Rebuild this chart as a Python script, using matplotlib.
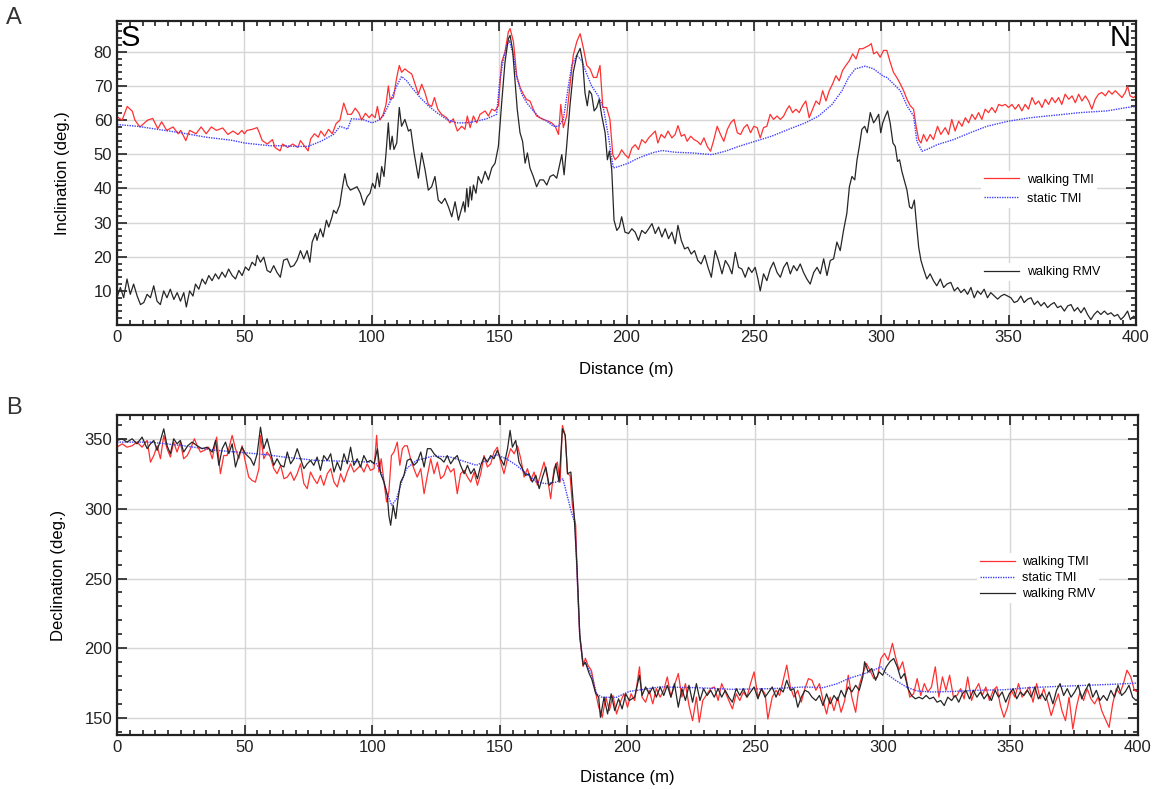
import matplotlib

matplotlib.use("Agg")
import matplotlib.pyplot as plt
import numpy as np
from matplotlib.ticker import MultipleLocator

plt.rcParams["font.family"] = ["Liberation Sans", "DejaVu Sans"]

# (distance m, inclination deg) along the S-N profile
inc_walking_tmi = [
    (0, 61), (2, 60), (4, 64), (6, 62.6), (7, 60), (9, 58), (12, 60), (14, 60.5), (16, 57.5),
    (17.5, 59.5), (19.5, 57), (22, 58), (24, 56), (25, 57), (27, 54), (28.5, 57), (31, 56),
    (33, 58), (35, 56), (37, 58), (39, 57), (41.5, 57.7), (43.5, 55.8), (45.5, 56.8),
    (47.5, 55.8), (49, 57), (50, 56), (51, 57), (53, 57.3), (55, 57.8), (56, 56), (57, 54),
    (59, 53), (61, 54.3), (62, 52), (64, 51), (65, 53), (67, 52), (69, 53), (71, 52), (72, 54),
    (74, 52), (75, 51), (76, 54.5), (77.5, 56), (79, 55), (80, 56.8), (81.5, 55.3), (83, 57.3),
    (84.5, 56), (86, 59), (87.5, 60), (89, 65), (90.5, 61.7), (92, 61.7), (93.5, 63.5), (95, 62),
    (96, 60), (97.5, 62), (99, 60.7), (100, 61.7), (101.3, 60.7), (102.2, 64), (103.2, 60),
    (104.5, 61.7), (105.6, 64.6), (106.5, 70), (107.2, 66), (108.5, 66.6), (109.8, 72.5),
    (110.8, 76), (111.7, 74), (113, 75), (114.3, 74.2), (115.7, 73.5), (117, 70.5),
    (118.3, 67.6), (119.6, 70.5), (120.9, 68), (122.2, 64.6), (123.5, 64), (124.6, 66.6),
    (125.9, 63.2), (127.4, 61.7), (129.4, 60.7), (130.7, 59.2), (132, 60.4), (133.6, 56.8),
    (135.3, 58.2), (136.6, 57.3), (137.5, 61.2), (138.6, 57.8), (139.9, 61.2), (141.2, 59.2),
    (142.5, 61.7), (144.5, 62.7), (145.8, 61.2), (147.1, 63.2), (148.4, 62.7), (149.7, 64.2),
    (151, 77), (152.3, 80), (153.6, 85.8), (154.3, 86.8), (155.6, 83), (156.9, 73),
    (158.2, 69.6), (159.5, 67.6), (160.8, 66), (162.1, 65.6), (163.4, 63.2), (164.7, 61.2),
    (166, 60.7), (167.4, 60.2), (169.3, 59.7), (170.6, 59.2), (172, 58.2), (173.3, 55.8),
    (174.2, 64.6), (175.2, 57.8), (176.5, 61.2), (177.8, 70), (179.1, 79), (180.5, 83),
    (181.8, 85.3), (183.1, 81), (184.4, 76), (185.7, 75), (187, 72.5), (188.3, 72.5),
    (189.6, 76), (190.7, 63.7), (192.2, 63.7), (193.5, 60.2), (194.6, 50), (195.5, 48.4),
    (196.8, 49.4), (198.1, 51.3), (199.4, 49.9), (200.8, 48.9), (202.1, 51.8), (203.4, 52.8),
    (204.7, 51.4), (206, 54.3), (207.4, 53.3), (208.7, 54.8), (210, 55.8), (211.3, 56.8),
    (212.3, 53.3), (213.6, 55.8), (215, 54.8), (216.3, 56.8), (217.8, 54.8), (219.1, 55.8),
    (220.2, 58.4), (221.5, 55.3), (222.8, 55.8), (223.8, 53.8), (225.2, 55.3), (226.5, 54.3),
    (227.8, 53.8), (229.1, 52.8), (230.4, 54.8), (231.7, 52.3), (233, 50.9), (234.3, 54.3),
    (235.6, 58.2), (236.9, 55.8), (238.2, 53.8), (239.6, 57.3), (240.9, 59.2), (242.2, 60.2),
    (243.5, 56.3), (244.8, 55.8), (246.1, 57.8), (247.4, 58.7), (248.7, 56.3), (250, 58.2),
    (251.3, 57.8), (252.5, 54.8), (253.8, 57.8), (255.1, 58.2), (256.4, 61.7), (257.7, 60.2),
    (259.1, 61.2), (260.4, 60.2), (261.7, 61.2), (263, 63.2), (263.9, 64.2), (265.2, 62.2),
    (266.5, 63.2), (267.8, 62.2), (269.1, 64.2), (270.4, 65.6), (271.7, 60.7), (273.1, 63.2),
    (274.4, 65.6), (275.7, 64.6), (277, 68.6), (278.3, 65.6), (279.6, 68.6), (280.9, 70.6),
    (282.2, 73), (283.5, 71.5), (284.8, 74.5), (286.1, 76), (287.5, 77.4), (288.8, 79.4),
    (290.1, 77.9), (291.4, 80.9), (292.7, 80.9), (294, 81.4), (295.3, 81.9), (296.1, 82.4),
    (297, 79.4), (298.3, 80), (299.6, 78.4), (300.9, 80.4), (302.2, 80.4), (303.5, 77),
    (304.8, 74), (306.1, 72.5), (307.5, 70.6), (308.8, 68.6), (310.1, 66.1), (311.4, 64.2),
    (312.7, 63.2), (313.7, 58.2), (314.7, 54.3), (315.6, 53.3), (316.6, 55.8), (317.9, 53.8),
    (319.2, 55.8), (320.5, 54.3), (322.1, 58.2), (323.4, 55.8), (325.1, 57.8), (326.4, 55.8),
    (327.7, 60.2), (329, 56.8), (330.4, 59.7), (331.7, 58.2), (333, 60.7), (334.3, 59.2),
    (335.6, 61.7), (336.9, 60.2), (338.2, 62.2), (339.5, 60.2), (340.8, 63.2), (342.1, 62.2),
    (343.4, 63.7), (344.8, 62.2), (346.1, 64.6), (347.4, 64.2), (348.7, 64.6), (350, 63.7),
    (351.3, 64.6), (352.6, 63.2), (353.9, 64.6), (355.2, 62.7), (356.5, 64.6), (357.8, 63.2),
    (359.2, 66.6), (360.5, 64.6), (361.8, 65.6), (363.1, 63.7), (364.4, 66.1), (365.7, 64.6),
    (367, 66.6), (368.3, 65.1), (369.6, 66.6), (370.9, 64.6), (372.2, 67.6), (373.6, 66.1),
    (374.9, 67.1), (376.2, 65.1), (377.5, 67.6), (378.8, 65.6), (380.1, 67.1), (381.4, 65.6),
    (382.7, 63.2), (384, 66.1), (385.3, 67.6), (386.6, 68.1), (388, 67.1), (389.3, 68.6),
    (390.6, 67.6), (391.9, 68.6), (393.2, 67.6), (394.5, 66.6), (395.8, 68.1), (396.7, 70),
    (397.7, 67.1), (399, 66.6), (400, 67.1),
]

inc_static_tmi = [
    (0, 58.7), (8, 58.2), (15, 57.4), (25, 56.3), (35, 55), (45, 54.1), (50, 53.3), (60, 52.5),
    (65, 52.5), (70, 52.3), (75, 52.3), (80, 53.8), (85, 55.8), (87.5, 58.2), (89, 57.8),
    (90.5, 57.3), (92, 60.4), (96.5, 60.2), (100, 59.2), (102, 59.7), (104.5, 61.2),
    (107, 65.1), (109.8, 70), (111.7, 72.8), (113.7, 71.5), (116.3, 69), (119, 66.6),
    (122.2, 64.2), (125.5, 62.2), (129.4, 60.2), (133.3, 59.2), (137.3, 59.2), (141.2, 59.7),
    (145.1, 60.4), (149, 61.7), (150.3, 72), (151.7, 77.9), (153, 81.9), (154, 83.3),
    (155.6, 79), (156.9, 72.5), (158.9, 67.6), (160.8, 65.1), (163.4, 62.7), (166, 60.7),
    (168.7, 59.7), (171.3, 58.2), (173.3, 58.2), (175.2, 60.2), (177.2, 70), (178.5, 76),
    (180.5, 79), (182.4, 77.4), (184.4, 73.5), (186.3, 70), (188.9, 67.1), (190.9, 63.7),
    (192.9, 55.3), (194.8, 46), (196.8, 46.4), (200.7, 47.4), (204.7, 48.9), (210, 50.4),
    (213.9, 51.1), (219.1, 50.6), (225.7, 50.4), (233.5, 49.9), (238.8, 50.9), (244, 52.3),
    (250.5, 53.8), (257, 55.3), (263.6, 57.3), (270.2, 59.2), (275.4, 61.2), (280.7, 64.6),
    (284.6, 68.6), (287.2, 72.5), (289.8, 75), (293.7, 75.8), (297, 75), (300.9, 72.8),
    (302.2, 72.5), (304.8, 70.6), (307.5, 68.6), (310.1, 64.2), (312.7, 61.2), (314, 53.8),
    (316, 50.9), (317.9, 51.4), (321.9, 52.8), (328.4, 54.3), (334.9, 56.3), (341.5, 58.2),
    (350, 59.7), (358.5, 60.7), (367.7, 61.4), (378.1, 62.2), (388.6, 62.7), (396.5, 63.7),
    (400, 64),
]

inc_walking_rmv = [
    (0, 8.1), (1.3, 11), (2.6, 8), (3.9, 13.5), (5.2, 9), (6.5, 12), (7.9, 8.5), (9.2, 6),
    (10.5, 6.6), (11.8, 9), (13.1, 8), (14.4, 11.5), (15.7, 7), (17, 6), (18.3, 10), (19.6, 8),
    (20.9, 10.5), (22.3, 7.5), (23.6, 9.5), (24.9, 7), (26.2, 9.5), (27.2, 5.3), (28.5, 10),
    (29.8, 8.5), (30.8, 12), (32.1, 10.5), (33.4, 13.5), (34.7, 12), (36, 14.5), (37.3, 13),
    (38.6, 15), (39.9, 13.5), (41.2, 15.5), (42.5, 14), (43.8, 16.4), (45.2, 14.5),
    (46.5, 13.5), (47.8, 16), (49.1, 14.5), (50.4, 17), (51.7, 16), (53, 18.4), (54.3, 17.4),
    (55, 20.4), (56.3, 18.4), (57.6, 19.9), (58.9, 16), (60.2, 15.4), (61.5, 17.4),
    (62.8, 15.4), (64.1, 14), (65.4, 19), (66.8, 19.4), (68.1, 17), (69.4, 17.4), (70.7, 19),
    (72, 21.8), (73.3, 19.4), (74.6, 21.8), (75.7, 18.4), (76.6, 24.3), (77.9, 26.8),
    (78.5, 24.8), (79.8, 28.2), (80.9, 25.8), (82.2, 30.7), (83.1, 28.7), (84.4, 31.7),
    (85, 33.6), (86.1, 32.7), (87.4, 35.1), (88.3, 39.5), (89.4, 44.3), (90.3, 41),
    (91.6, 39.5), (92.9, 40), (94.2, 40.5), (95.5, 38.6), (96.9, 35.1), (98.2, 37.6),
    (99.3, 38.6), (100.3, 41.5), (101.3, 40), (102.2, 44.5), (103, 40.5), (103.9, 46.4),
    (104.8, 43.5), (105.6, 50.4), (106.5, 59.2), (107.2, 51.4), (108, 55.3), (108.7, 51.4),
    (109.8, 53.3), (110.8, 63.7), (111.7, 58.2), (113, 60.2), (114.4, 56.8), (115.3, 57.3),
    (116.6, 50.4), (118.3, 43), (119.6, 50.4), (120.9, 45.5), (122.2, 39.5), (123.5, 40.5),
    (124.8, 43.5), (126.1, 36.6), (127.4, 35.6), (128.7, 37.1), (130.1, 34.6), (131.4, 31.7),
    (132.7, 36.1), (134, 30.7), (134.9, 33.1), (136, 36.1), (136.6, 33.1), (137.3, 40),
    (137.9, 34.6), (138.6, 40.5), (139.2, 36.6), (139.9, 41), (140.9, 38.6), (141.8, 43.5),
    (143.1, 41.5), (144.5, 45), (145.8, 42.5), (147.1, 46), (148.4, 47.4), (149.7, 52.3),
    (151, 65.1), (152.3, 77), (153.6, 83.8), (154.3, 84.8), (155.3, 80.4), (156.2, 72),
    (157.1, 63.2), (158.2, 56.3), (159.2, 53.8), (160.2, 47.4), (161.1, 50.4), (162.1, 46),
    (163.4, 43.5), (164.7, 40.5), (166, 42.5), (167.4, 42.5), (168.7, 41), (170, 43.5),
    (171.3, 44), (172.6, 43), (173.6, 46.4), (174.6, 49.9), (175.5, 44), (176.5, 52.3),
    (177.8, 64.2), (179.1, 74), (180.5, 79), (181.8, 81), (182.8, 77), (183.7, 68),
    (184.6, 64.2), (185.4, 68.6), (186.3, 67.6), (187.3, 62.7), (188.3, 63.7), (189.3, 66.1),
    (190.3, 61.2), (191.6, 56.3), (192.5, 48.4), (193.3, 51), (194.2, 45.5), (195.1, 30.7),
    (196.2, 27.7), (197.2, 28.7), (198.1, 31.7), (199.4, 27.2), (200.8, 26.8), (202.1, 28.2),
    (203.4, 27.2), (204.7, 24.8), (206, 27.7), (207.4, 26.8), (208.7, 28.2), (210, 29.7),
    (211.3, 26.8), (212.6, 28.7), (213.9, 25.8), (215.2, 28.2), (216.5, 25.3), (217.8, 27.2),
    (219.1, 23.8), (220.2, 29.2), (221.5, 24.8), (222.8, 22.3), (224.1, 22.8), (225.4, 20.8),
    (226.7, 21.8), (228, 18.9), (229.3, 17.9), (230.7, 20.4), (232, 16.9), (233.3, 14),
    (234.8, 21.8), (236.1, 18.9), (237.5, 15), (238.8, 18.9), (240.1, 17.4), (241.4, 15),
    (242.7, 21.3), (244, 16.9), (245.3, 16.4), (246.6, 14), (247.9, 16.9), (249.2, 15.4),
    (250.5, 16.9), (251.6, 13.5), (252.5, 10), (253.8, 15), (255.1, 13), (256.4, 16.4),
    (257.7, 18.4), (259.1, 15.4), (260.4, 14), (261.7, 16.9), (263, 18.4), (264.3, 15),
    (265.6, 17.4), (266.9, 15.9), (268.2, 17.9), (269.5, 15.4), (270.8, 13.5), (272.1, 12),
    (273.5, 15.4), (274.8, 16.9), (276.1, 15), (277.4, 19.4), (278.7, 14.5), (280, 18.9),
    (281.3, 19.4), (282.6, 24.3), (283.9, 21.8), (285.2, 27.7), (286.5, 32.7), (287.5, 40.5),
    (288.5, 43.5), (289.6, 42.5), (290.5, 48.4), (291.4, 52.3), (292.4, 57.3), (293.5, 58.2),
    (294.5, 56.3), (295.7, 62.2), (297, 59.2), (297.9, 60.2), (299, 61.7), (299.8, 56.3),
    (300.6, 59.2), (301.6, 61.2), (302.5, 62.7), (303.5, 59.2), (304.6, 53.3), (305.5, 52.3),
    (306.4, 47.9), (307.2, 48.4), (308.1, 45), (309, 42.5), (310.1, 39.5), (311.1, 34.6),
    (312, 34.1), (313, 36.6), (313.7, 30.7), (314.7, 22.8), (315.6, 18.9), (316.6, 16.4),
    (317.9, 13.5), (319.2, 15), (320.5, 13), (321.8, 11.5), (323.2, 13.5), (324.5, 11),
    (325.8, 12), (327.3, 12.5), (328.7, 10), (330, 11), (331.3, 9.5), (332.6, 10.5),
    (333.9, 9), (335.2, 11), (336.5, 8), (337.8, 10), (339.1, 9), (340.4, 10.5), (341.7, 8),
    (343, 9.5), (344.4, 8.5), (345.7, 7.6), (347, 8.5), (348.3, 9), (349.6, 8.5), (350.9, 8),
    (352.2, 6.6), (353.5, 7), (354.8, 8.5), (356.1, 6.6), (357.5, 7.6), (358.8, 8), (360.1, 6),
    (361.4, 7), (362.7, 5.6), (364, 6.6), (365.3, 5.1), (366.6, 6), (367.9, 6.6), (369.2, 5.1),
    (370.5, 5.6), (371.9, 4.1), (373.2, 5.6), (374.5, 6), (375.8, 4.1), (377.1, 5.1),
    (378.4, 3.6), (379.7, 5.1), (381, 3.1), (382.3, 1.6), (383.6, 3.1), (384.9, 4.1),
    (386.2, 3.1), (387.6, 4.1), (388.9, 3.1), (390.2, 3.6), (391.5, 2.6), (392.8, 3.1),
    (394.1, 1.6), (395.4, 2.6), (396.7, 4.1), (397.8, 1.6), (399.1, 2.6), (400, 2.1),
]

# (distance m, declination deg)
dec_walking_tmi = [
    (0, 344), (2, 346.4), (3.9, 344), (5.9, 345), (7.8, 347.6), (9.8, 344), (11.8, 348.8),
    (13.1, 333.3), (14.4, 338), (15.7, 345), (17, 335.7), (18.3, 352.4), (19.6, 342.9),
    (20.9, 336.9), (22.2, 347.6), (23.5, 340.5), (24.8, 347.6), (26.1, 335.7), (27.5, 338),
    (28.8, 342.9), (30.3, 350), (31.4, 345), (32.7, 340.5), (34.2, 341.7), (35.9, 344),
    (37.3, 335.7), (39, 351.2), (40.5, 325), (41.8, 338), (43.1, 338), (45.1, 352.4),
    (46.4, 342.9), (47.7, 335.7), (49, 345), (50.3, 333.3), (51.6, 322.6), (52.9, 320.2),
    (54.2, 319), (55.6, 328.6), (56.2, 352.4), (57.5, 335.7), (58.8, 340.5), (60.1, 336.9),
    (61.4, 328.6), (62.7, 325), (64.1, 331), (65.4, 321.4), (66.7, 322.6), (68, 326.2),
    (69.3, 320.2), (70.6, 325), (71.9, 332.1), (73.2, 317.9), (74.5, 314.3), (75.8, 326.2),
    (77.1, 321.4), (78.4, 317.9), (79.7, 323.8), (81, 316.7), (82.4, 325), (83.7, 328.6),
    (85, 319), (86.3, 315.5), (87.6, 325), (88.9, 319), (90.2, 326.2), (91.5, 332.1),
    (92.8, 326.2), (94.1, 328.6), (95.4, 331), (96.7, 326.2), (98, 332.1), (99.3, 327.4),
    (100.7, 328.6), (101.7, 352.4), (102.6, 326.2), (103.5, 335.7), (104.6, 319),
    (105.6, 304.8), (106.5, 311.9), (107.5, 338), (108.5, 340.5), (109.8, 347.6), (110.8, 331),
    (111.8, 342.9), (112.7, 345), (113.7, 345), (115, 335.7), (116.3, 328.6), (117.6, 322.6),
    (119, 328.6), (120.3, 310.7), (121.6, 323.8), (122.9, 335.7), (124.2, 325), (125.5, 333.3),
    (126.8, 321.4), (128.1, 323.8), (129.4, 331), (130.7, 326.2), (132, 328.6), (133.3, 310.7),
    (134.6, 325), (136, 327.4), (137.3, 322.6), (138.6, 319), (139.9, 326.2), (141.2, 316.7),
    (142.5, 325), (143.8, 338), (145.1, 329.8), (146.4, 332.1), (147.7, 340.5), (149, 344),
    (150.3, 333.3), (151.6, 325), (153, 335.7), (154.2, 342.9), (155.6, 339.3), (156.9, 345),
    (158.2, 335.7), (159.5, 322.6), (160.8, 328.6), (162.1, 320.2), (163.4, 326.2),
    (164.7, 316.7), (166, 325), (167.3, 333.3), (168.6, 322.6), (169.9, 307.1), (171.2, 328.6),
    (172.5, 333.3), (173.6, 319), (174.5, 359.5), (175.6, 352.4), (176.5, 325), (177.5, 323.8),
    (178.4, 302.4), (179.7, 288.1), (180.3, 251), (181.3, 208), (182.6, 187), (183.5, 193),
    (184.5, 188), (185.9, 184), (187.2, 171.2), (188.7, 158), (190.1, 150.7), (191.5, 165.1),
    (192.9, 155.5), (194.3, 166.3), (195.7, 153.1), (197.2, 161.5), (198.6, 167.5),
    (200, 157.9), (201.4, 167.5), (202.8, 162.7), (204.7, 186.8), (205.7, 165.1),
    (207.1, 161.5), (208.5, 170), (209.9, 160.3), (211.3, 171.2), (212.8, 165.1), (214.2, 170),
    (215.6, 179.6), (217, 165.1), (218.4, 173.6), (219.9, 182), (221.3, 165.1), (222.7, 174.8),
    (224.1, 159.1), (225.5, 148.3), (227, 165.1), (228.1, 147.1), (229.5, 162.7),
    (231.2, 167.5), (232.6, 171.2), (234, 172.4), (235.5, 162.7), (236.9, 174.8),
    (238.3, 168.8), (239.7, 162.7), (241.1, 156.7), (242.6, 167.5), (244, 162.7),
    (245.4, 168.8), (246.8, 165.1), (248.2, 174.8), (249.6, 183.2), (251.1, 165.1),
    (252.5, 171.2), (253.9, 167.5), (255, 149.5), (256.7, 165.1), (258.2, 170), (259.6, 166.3),
    (261, 177.2), (262.4, 188), (263.8, 172.4), (265.2, 165.1), (266.7, 170), (268.1, 161.5),
    (269.5, 171.2), (270.9, 178.4), (272.3, 177.2), (273.8, 170), (275.2, 174.8),
    (276.6, 162.7), (278, 153.1), (279.4, 165.1), (280.9, 155.5), (282.3, 165.1),
    (283.7, 154.3), (285.1, 162.7), (286.5, 180.8), (287.9, 165.1), (289.4, 154.3),
    (290.8, 173.6), (292.2, 182), (293.6, 189.2), (295, 184.4), (296.5, 178.4), (297.9, 179.6),
    (299.3, 192.8), (300.7, 196.4), (302.1, 191.6), (303.8, 203.6), (305, 194), (306.4, 184.4),
    (307.8, 190.4), (309.2, 178.4), (310.6, 165.1), (312.1, 167.5), (313.5, 178.4),
    (314.9, 166.3), (316.3, 174.8), (317.7, 168.8), (319.1, 172.4), (320.6, 186.8),
    (322, 165.1), (323.4, 179.6), (324.8, 170), (326.2, 180.8), (327.7, 165.1), (329.1, 166.3),
    (330.5, 171.2), (331.9, 163.9), (333.3, 179.6), (334.8, 162.7), (336.2, 170),
    (337.6, 174.8), (339, 166.3), (340.4, 172.4), (341.8, 162.7), (343.3, 170), (344.7, 172.6),
    (346.1, 159.1), (347.5, 150.7), (348.9, 157.9), (350.4, 170), (351.8, 165.1),
    (353.2, 174.8), (354.6, 165.1), (356, 168.8), (357.4, 172.4), (358.9, 161.5),
    (360.3, 174.8), (361.7, 163.9), (363.1, 171.2), (364.5, 162.7), (366, 151.9),
    (367.4, 160.3), (368.8, 167.5), (370.2, 155.5), (371.6, 148.3), (373, 165.1),
    (374.5, 142.3), (375.9, 157.9), (377.3, 168.8), (378.7, 162.7), (380.1, 171.2),
    (381.6, 163.9), (383, 160.3), (384.4, 165.1), (385.8, 155.5), (387.2, 149.5),
    (388.7, 143.5), (390.1, 160.3), (391.5, 171.2), (392.9, 167.5), (394.3, 174.8),
    (395.7, 184.4), (397.2, 179.6), (398.6, 170), (400, 168.8),
]

dec_static_tmi = [
    (0, 347.6), (13, 347.6), (26, 345), (39, 341.7), (50, 340), (58.7, 338.6), (65, 337),
    (78, 334.5), (91, 333.8), (100, 333.3), (101.7, 332), (103.7, 325), (105.6, 312),
    (107.6, 302.4), (109.5, 307), (111.5, 319), (113.4, 328.6), (117.3, 334.5), (123.9, 337.6),
    (130.4, 337), (136.9, 333.3), (140.8, 331), (144.7, 334.5), (148.6, 338.6), (152.5, 335.7),
    (156.5, 331), (160.4, 325), (164.3, 319), (168.2, 317.9), (172.1, 319), (174.7, 321.4),
    (176.7, 307), (178, 297.6), (179.4, 289.6), (180.3, 251), (181.3, 208.5), (182.6, 190),
    (183.7, 189), (185.8, 182), (187.9, 167.5), (190, 165), (195.7, 165), (200.7, 169.2),
    (212.8, 172.4), (227, 171.9), (241, 170.7), (256.7, 171.2), (269.5, 172.4), (276.6, 171.9),
    (282.3, 174.8), (286.5, 178.4), (290.8, 180.8), (295, 183.2), (299.3, 186.8), (301.4, 182),
    (305, 177.2), (309.2, 172.4), (313.5, 169.5), (319.1, 168.8), (327.7, 169.2), (336.2, 170),
    (347.5, 170.4), (357.4, 171.9), (368.8, 172.8), (380.1, 173.6), (390.1, 174.3),
    (400, 175.2),
]

dec_walking_rmv = [
    (0, 348.8), (2, 350), (3.9, 347.6), (5.9, 350), (7.8, 346.4), (9.8, 351.2), (11.8, 342.9),
    (13.1, 346.4), (14.4, 348.8), (15.7, 341.7), (17, 348.8), (18.3, 357.1), (19.6, 345),
    (20.9, 339.3), (22.2, 350), (23.5, 346.4), (24.8, 348.8), (26.1, 340.5), (27.7, 345),
    (29.4, 347.6), (31.4, 345), (33.3, 342.9), (35.3, 344), (37.3, 340.5), (38.6, 348.8),
    (39.9, 331), (41.2, 342.9), (42.5, 347.6), (43.8, 339.3), (45.1, 346.4), (46.4, 329.8),
    (47.7, 338), (49, 344), (50.3, 339.3), (52.3, 335.7), (53.6, 331), (54.9, 339.3),
    (56.2, 358.3), (57.5, 342.9), (58.8, 350), (60.1, 340.5), (61.4, 331), (62.7, 335.7),
    (64.1, 331), (65.4, 329.8), (66.7, 340.5), (68, 332.1), (69.3, 335.7), (70.6, 342.9),
    (71.9, 335.7), (73.2, 328.6), (74.5, 332.1), (75.8, 334.5), (77.1, 331), (78.4, 336.9),
    (79.7, 327.4), (81, 338), (82.4, 334.5), (83.7, 339.3), (85, 326.2), (86.3, 333.3),
    (87.6, 327.4), (88.9, 339.3), (90.2, 332.1), (91.5, 344), (92.8, 331), (94.1, 335.7),
    (95.4, 329.8), (96.7, 338), (98, 333.3), (99.3, 334.5), (100.7, 332.1), (102, 342.9),
    (103.3, 325), (104.6, 319), (105.9, 309.5), (106.5, 295.2), (107.2, 288.1), (108.2, 302.4),
    (109.2, 292.9), (110.1, 307.1), (111.1, 319), (112.4, 323.8), (113.7, 334.5),
    (115, 335.7), (116.3, 331), (117.6, 333.3), (119, 340.5), (120.3, 329.8), (121.6, 342.9),
    (122.9, 342.9), (124.2, 339.3), (125.5, 336.9), (126.8, 335.7), (128.1, 333.3),
    (129.4, 338), (130.7, 332.1), (132, 335.7), (133.3, 338), (134.6, 331), (136, 325),
    (137.3, 331), (138.6, 325), (139.9, 328.6), (141.2, 321.4), (142.5, 331), (143.8, 336.9),
    (145.1, 333.3), (146.4, 338), (147.7, 335.7), (149, 341.7), (150.3, 335.7), (151.6, 331),
    (153, 342.9), (154, 356), (154.9, 344), (156.2, 348.8), (157.5, 333.3), (158.8, 328.6),
    (160.1, 323.8), (161.4, 325), (162.7, 319), (164.1, 323.8), (165.4, 314.3),
    (166.7, 322.6), (168, 329.8), (169.3, 316.7), (170.6, 319), (171.9, 332.1), (173.2, 319),
    (174.5, 357.1), (175.6, 352.4), (176.5, 325), (177.8, 326.2), (179.1, 295.2),
    (180.3, 255), (181.3, 210), (182.6, 188), (183.5, 190), (185, 182), (186, 178),
    (187.5, 168), (188.7, 165.1), (189.4, 150.7), (190.8, 165.1), (192.2, 153.1),
    (193.6, 167.5), (195, 155.5), (196.5, 163.9), (197.9, 156.7), (199.3, 167.5),
    (200.7, 162.7), (202.8, 165.1), (204.7, 180.8), (205.7, 166.3), (207.1, 172.4),
    (208.5, 167.5), (209.9, 172.4), (211.3, 165.1), (212.8, 172.4), (214.2, 166.3),
    (215.6, 173.6), (217, 165.1), (218.4, 174.8), (219.9, 157.9), (221.3, 171.2),
    (222.7, 162.7), (224.1, 173.6), (225.5, 161.5), (227, 174.8), (228.4, 162.7),
    (229.8, 171.2), (231.2, 166.3), (232.6, 170), (234, 165.1), (235.5, 171.2), (236.9, 165.1),
    (238.3, 170), (239.7, 165.1), (241.1, 161.5), (242.6, 171.2), (244, 166.3), (245.4, 171.2),
    (246.8, 165.1), (248.2, 168.8), (249.6, 172.4), (251.1, 163.9), (252.5, 171.2),
    (253.9, 165.1), (255.3, 168.8), (256.7, 172.4), (258.2, 165.1), (259.6, 171.2),
    (261, 168.8), (262.4, 177.2), (263.8, 170), (265.2, 171.2), (266.7, 157.9), (268.1, 165.1),
    (269.5, 170), (270.9, 168.8), (272.3, 165.1), (273.8, 162.7), (275.2, 166.3),
    (276.6, 159.1), (278, 167.5), (279.4, 160.3), (280.9, 166.3), (282.3, 162.7),
    (283.7, 170), (285.1, 165.1), (286.5, 172.4), (287.9, 168.8), (289.4, 173.6),
    (290.8, 170), (292.2, 179.6), (292.9, 190.4), (294.3, 183.2), (295.7, 185.6),
    (297.2, 177.2), (298.6, 183.2), (300, 180.8), (301.4, 186.8), (302.8, 190.4),
    (304.3, 192.8), (305.7, 186.8), (307.1, 178.4), (308.5, 182), (309.9, 171.2),
    (311.3, 166.3), (312.8, 163.9), (314.2, 165.1), (315.6, 163.9), (317, 166.3),
    (318.4, 163.9), (319.9, 165.1), (321.3, 161.5), (322.7, 162.7), (324.1, 159.1),
    (325.5, 165.1), (327, 162.7), (328.4, 166.3), (329.8, 161.5), (331.2, 167.5),
    (332.6, 170), (334, 163.9), (335.5, 170), (336.9, 165.1), (338.3, 168.8), (339.7, 163.9),
    (341.1, 167.5), (342.6, 162.7), (344, 170), (345.4, 165.1), (346.8, 168.8), (348.2, 161.5),
    (349.6, 167.5), (351.1, 171.2), (352.5, 163.9), (353.9, 168.8), (355.3, 166.3),
    (356.7, 170), (358.2, 165.1), (359.6, 172.4), (361, 163.9), (362.4, 167.5),
    (363.8, 162.7), (365.2, 168.8), (366.7, 160.3), (368.1, 170), (369.5, 174.8),
    (370.9, 166.3), (372.3, 171.2), (373.8, 165.1), (375.2, 168.8), (376.6, 173.6),
    (378, 163.9), (379.4, 170), (380.9, 174.8), (382.3, 165.1), (383.7, 170), (385.1, 162.7),
    (386.5, 166.3), (387.9, 162.7), (389.4, 170), (390.8, 165.1), (392.2, 173.6),
    (393.6, 166.3), (395, 168.8), (396.5, 173.6), (397.9, 165.1), (399.3, 162.7), (400, 164),
]

series_labels = ["walking TMI", "static TMI", "walking RMV"]
inc_ticks = [10, 20, 30, 40, 50, 60, 70, 80]
dec_ticks = [150, 200, 250, 300, 350]

RED = "#ff3030"
BLUE = "#4040ff"
DARK = "#262626"


def style_axes(ax, ylim, yticks, yminor, xpad):
    ax.set_xlim(0, 400)
    ax.set_ylim(*ylim)
    ax.xaxis.set_major_locator(MultipleLocator(50))
    ax.xaxis.set_minor_locator(MultipleLocator(5))
    ax.set_yticks(yticks)
    ax.yaxis.set_minor_locator(MultipleLocator(yminor))
    ax.tick_params(which="both", direction="in", top=True, right=True,
                   labelsize=12, width=1.2, colors="#222222")
    ax.tick_params(which="major", length=7)
    ax.tick_params(which="minor", length=3.5)
    ax.grid(True, which="major", color="#d6d6d6", lw=1)
    ax.set_axisbelow(True)
    for sp in ax.spines.values():
        sp.set_linewidth(1.6)
        sp.set_color("#222222")
    ax.set_xlabel("Distance (m)", fontsize=12, labelpad=xpad)


def draw(ax, data, **kw):
    d, v = np.array(data).T
    return ax.plot(d, v, **kw)[0]


fig = plt.figure(figsize=(11.67, 7.89), dpi=100)
ax_a = fig.add_axes([0.1003, 0.588, 0.8731, 0.3853])
ax_b = fig.add_axes([0.1003, 0.0684, 0.8748, 0.4056])

red_style = dict(color=RED, lw=0.9)
blue_style = dict(color=BLUE, lw=1.0, ls=(0, (1, 0.8)))
dark_style = dict(color=DARK, lw=0.9)

# inclination
h_red = draw(ax_a, inc_walking_tmi, **red_style)
h_blue = draw(ax_a, inc_static_tmi, **blue_style)
h_dark = draw(ax_a, inc_walking_rmv, **dark_style)
style_axes(ax_a, (0, 89), inc_ticks, 2, xpad=12)
ax_a.set_ylabel("Inclination (deg.)", fontsize=12, labelpad=17)
ax_a.text(0.004, 0.99, "S", transform=ax_a.transAxes, ha="left", va="top", fontsize=21)
ax_a.text(0.995, 0.99, "N", transform=ax_a.transAxes, ha="right", va="top", fontsize=21)

leg_kw = dict(loc="center left", fontsize=9, handlelength=2.8, handletextpad=0.6,
              borderaxespad=0, borderpad=0.25, frameon=True, fancybox=False,
              edgecolor="none", facecolor="white", framealpha=1)
leg1 = ax_a.legend([h_red, h_blue], series_labels[:2], bbox_to_anchor=(0.848, 0.447),
                   labelspacing=0.55, **leg_kw)
ax_a.add_artist(leg1)
ax_a.legend([h_dark], series_labels[2:], bbox_to_anchor=(0.848, 0.174), **leg_kw)

# declination
draw(ax_b, dec_walking_tmi, **red_style)
draw(ax_b, dec_static_tmi, **blue_style)
draw(ax_b, dec_walking_rmv, **dark_style)
style_axes(ax_b, (138, 367), dec_ticks, 10, xpad=11)
ax_b.set_ylabel("Declination (deg.)", fontsize=12, labelpad=13)
ax_b.legend([h_red, h_blue, h_dark], series_labels, bbox_to_anchor=(0.842, 0.49),
            labelspacing=0.3, **leg_kw)

fig.text(0.012, 0.977, "A", fontsize=17, color="#333333", ha="center", va="center")
fig.text(0.012, 0.483, "B", fontsize=17, color="#333333", ha="center", va="center")

fig.savefig("out.png", dpi=100)
